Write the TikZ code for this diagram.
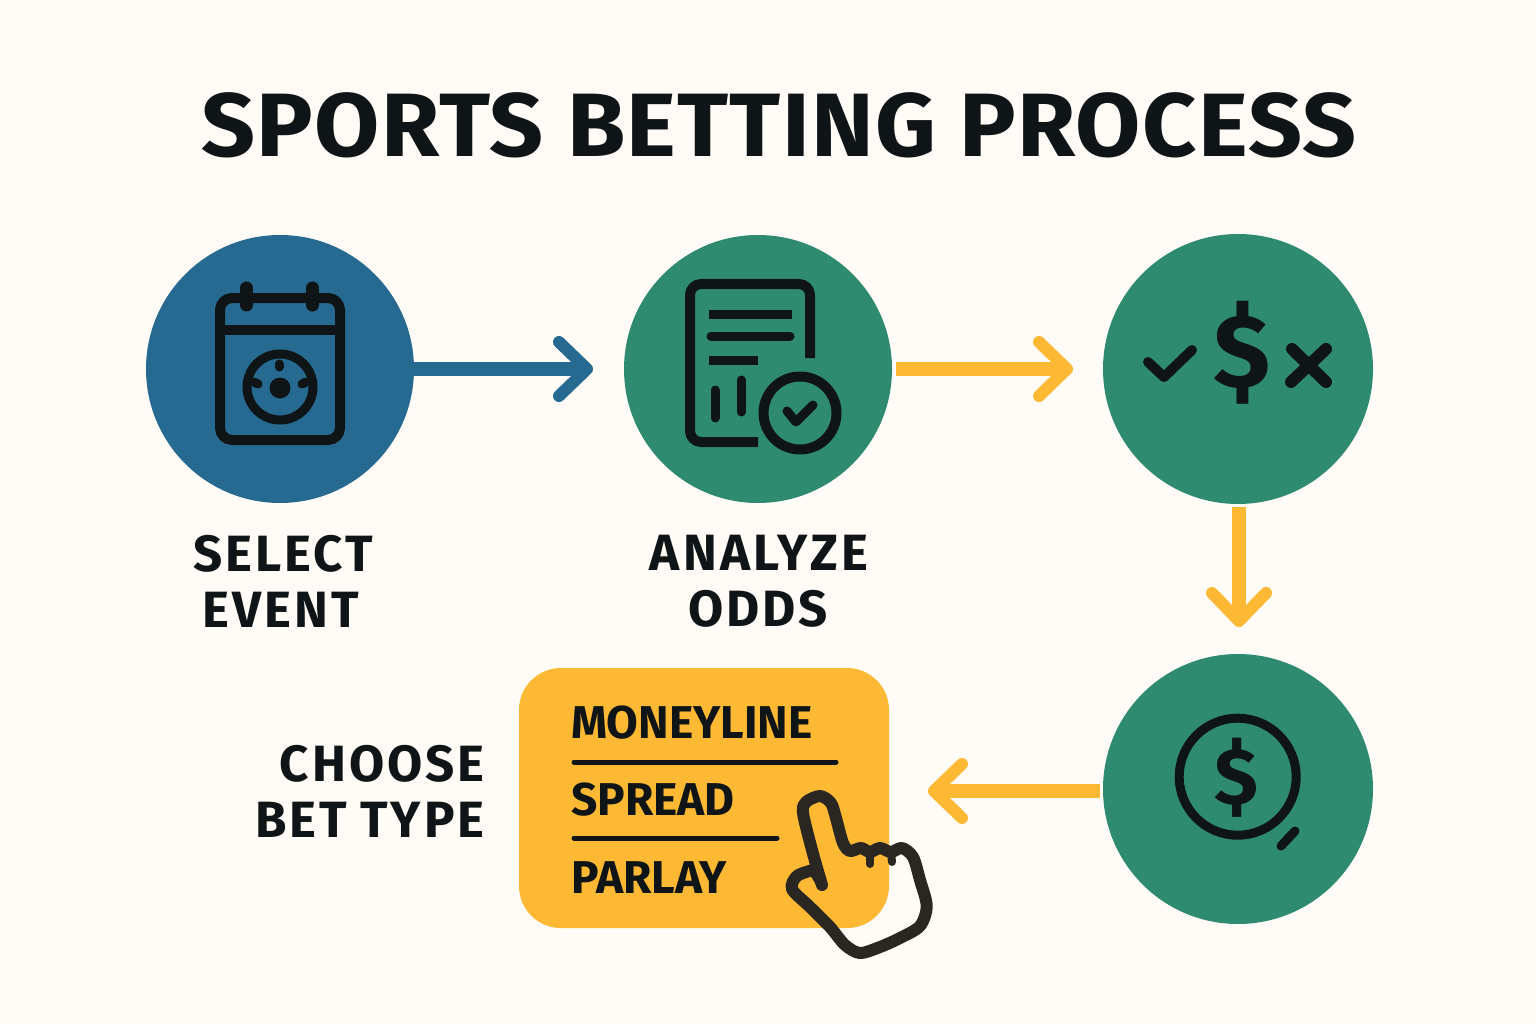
\documentclass[tikz,border=0pt]{standalone}
\usepackage{fontspec}
\setmainfont{Fira Sans}
\newfontfamily\ttlfont{Fira Sans}[LetterSpace=1.4,FakeStretch=1.05]
\newfontfamily\lblfont{Fira Sans}[LetterSpace=6]
\newfontfamily\optfont{Fira Sans}
\usetikzlibrary{arrows.meta}
\definecolor{bgc}{HTML}{FFFCF7}
\definecolor{bluec}{HTML}{266A91}
\definecolor{greenc}{HTML}{2F8B70}
\definecolor{yelc}{HTML}{FDB933}
\definecolor{ink}{HTML}{0F1416}
\definecolor{handc}{HTML}{2A2622}
\tikzset{
  disc/.style={circle,minimum size=#1,inner sep=0pt,outer sep=0pt},
  lbl/.style={anchor=base,text=ink,font=\lblfont\bfseries\fontsize{51}{51}\selectfont,inner sep=0pt},
  opt/.style={anchor=base west,text=ink,font=\optfont\bfseries\fontsize{46}{46}\selectfont,inner sep=0pt},
  icon/.style={draw=ink,line width=10pt,line cap=round,line join=round},
  thin icon/.style={draw=ink,line width=9pt,line cap=round,line join=round},
  flow/.style={line width=14pt,-{Straight Barb[length=28pt,width=54pt,line width=12pt,round]}},
}
\begin{document}
\begin{tikzpicture}[x=1pt,y=-1pt]
\path[use as bounding box,fill=bgc] (0,0) rectangle (1536,1024);
\node[anchor=base,text=ink,font=\ttlfont\bfseries\fontsize{90}{90}\selectfont,inner sep=0pt] (title) at (779,157) {SPORTS BETTING PROCESS};
% discs
\node[disc=268pt,fill=bluec] (c1) at (280,369) {};
\node[disc=268pt,fill=greenc] (c2) at (758,369) {};
\node[disc=270pt,fill=greenc] (c3) at (1238,369) {};
\node[disc=270pt,fill=greenc] (c4) at (1238,789) {};
% option box
\node[draw=none,fill=yelc,rounded corners=42pt,minimum width=370pt,minimum height=260pt,inner sep=0pt,outer sep=0pt] (box) at (704,798) {};
% connectors
\coordinate (t1) at (593,369);
\coordinate (t2) at (1073,369);
\coordinate (t3) at (1239,627);
\coordinate (t4) at (928,791);
\draw[flow,draw=bluec] (c1.east) -- (t1);
\draw[flow,draw=yelc,shorten <=4pt] (c2.east) -- (t2);
\draw[flow,draw=yelc,shorten <=3pt] (c3.south-|t3) -- (t3);
\draw[flow,draw=yelc,shorten <=3pt] (c4.west|-t4) -- (t4);
% calendar
\draw[icon,rounded corners=12pt] (220,298) rectangle (340,440);
\draw[icon] (220,330) -- (340,330);
\draw[draw=ink,line width=13pt,line cap=round] (246.5,288) -- (246.5,305);
\draw[draw=ink,line width=13pt,line cap=round] (312.5,288) -- (312.5,305);
\draw[draw=ink,line width=9pt] (280,387) circle (33);
\fill[ink] (280,388) circle (10.5);
\draw[thin icon] (279,364) -- (279,367);
\draw[thin icon] (254,382) -- (258,384);
\draw[thin icon] (306,382) -- (302,384);
% document
\draw[icon,line cap=butt,rounded corners=11pt] (810,358) -- (810,284) -- (690,284) -- (690,442) -- (758,442);
\draw[thin icon,line cap=butt] (709,314) -- (792,314);
\draw[thin icon] (711,336) -- (790,336);
\draw[thin icon,line cap=butt] (709,360) -- (758,360);
\draw[thin icon] (715,390) -- (715,418);
\draw[thin icon] (741,380) -- (741,412);
\draw[icon] (800,413) circle (36.5);
\draw[thin icon] (787,411) -- (796,422) -- (813,405);
% check / dollar / cross
\draw[icon] (1148,362) -- (1164,377) -- (1192,350);
\node[anchor=center,text=ink,font=\optfont\bfseries\fontsize{104}{104}\selectfont,inner sep=0pt] (d1) at (1242,353) {\$};
\draw[draw=ink,line width=12pt,line cap=round] (1292,349) -- (1326,382);
\draw[draw=ink,line width=12pt,line cap=round] (1326,349) -- (1291,382);
% coin
\draw[draw=ink,line width=9pt] (1237.7,776.7) circle (58.5);
\node[anchor=center,text=ink,font=\optfont\bfseries\fontsize{80}{80}\selectfont,inner sep=0pt] (d2) at (1236,778) {\$};
\draw[thin icon] (1281,846) -- (1295,831);
% labels
\node[lbl] (l1a) at (283,571) {SELECT};
\node[lbl] (l1b) at (281,627) {EVENT};
\node[lbl] (l2a) at (759,570) {ANALYZE};
\node[lbl] (l2b) at (758,626) {ODDS};
\node[lbl,anchor=base east] (l3a) at (485,781) {CHOOSE};
\node[lbl,anchor=base east] (l3b) at (485,837) {BET\hspace{-2pt} TYPE};
% options
\node[opt] (o1) at (571,738) {MONEYLINE};
\node[opt] (o2) at (571,815) {SPREAD};
\node[opt] (o3) at (571,893) {PARLAY};
\draw[draw=ink,line width=5pt,line cap=round] (574,762) -- (836,762);
\draw[draw=ink,line width=5pt,line cap=round] (574,838) -- (777,838);
% hand
\draw[draw=handc,line width=12pt,line cap=round,line join=round] plot[smooth,tension=0.5] coordinates {
 (822,885) (812,850) (803,813) (806,802) (820,796) (831,803) (836,818) (843,843) (850,851) (861,848) (870,852) (880,848) (891,852) (902,848) (913,857) (920,880) (926.7,906) (920,926) (900,938) (880,947) (860,953) (845,945) (830,927) (810,907) (792,889) (797,876) (813,870)};
\draw[draw=handc,line width=10pt,line cap=round] (813,870) -- (822,885);
\draw[draw=handc,line width=8pt,line cap=round] (870,852) -- (870,864);
\draw[draw=handc,line width=8pt,line cap=round] (891,852) -- (892,862);
\end{tikzpicture}
\end{document}
